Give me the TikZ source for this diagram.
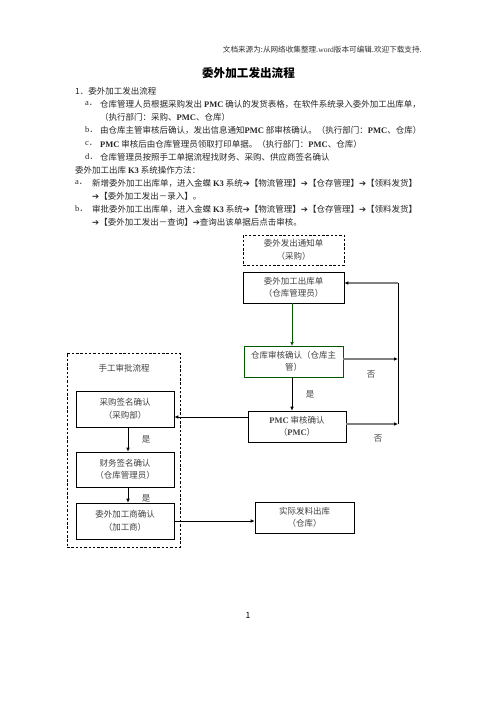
\documentclass[tikz,border=0pt]{standalone}
\usepackage{fontspec}
\setmainfont{Noto Sans CJK SC}
\newfontfamily\dvfont{DejaVu Sans}
\newfontfamily\tmfont{Liberation Serif}
\usetikzlibrary{arrows.meta}
\newcommand\myarr{{\dvfont\bfseries\fontsize{8.5}{10}\selectfont ➔}}
\newcommand\lt[1]{{\tmfont\bfseries #1}}
\newcommand\lr[1]{{\tmfont #1}}
\begin{document}
\begin{tikzpicture}[x=1pt,y=-1pt,
  box/.style={draw, line width=0.7pt, inner sep=0pt, align=center, text=black!75, font=\fontsize{8.5}{12.5}\selectfont},
  dbox/.style={box, dashed, dash pattern=on 2.5pt off 1.8pt},
  arr/.style={-{Latex[length=4pt,width=3.6pt]}, line width=0.7pt},
  garr/.style={-{Latex[length=4pt,width=3.6pt,color=black]}, line width=1.6pt, draw=black!50},
  lbl/.style={font=\fontsize{8.5}{10}\selectfont, text=black!75, inner sep=0pt},
  body/.style={anchor=west, inner sep=0pt, text=black!85, font=\fontsize{8.5}{10}\selectfont}]
\useasboundingbox (0,0) rectangle (496,702);

% header and title
\node[anchor=east, inner sep=0pt, text=black!80, font=\fontsize{7.6}{9}\selectfont] (hdr) at (422,50) {文档来源为:从网络收集整理.\lr{word}版本可编辑.欢迎下载支持.};
\node[inner sep=0pt, font=\fontsize{11.6}{14}\selectfont\bfseries] (title) at (248.5,73) {委外加工发出流程};

% body text
\node[body] (t1) at (75,91) {1．委外加工发出流程};
\node[body] (t2a) at (85,104) {\lr{a}．};
\node[body] (t2) at (100,104) {仓库管理人员根据采购发出 \lt{PMC} 确认的发货表格，在软件系统录入委外加工出库单，};
\node[body] (t3) at (100,117) {（执行部门：采购、\lt{PMC}、仓库）};
\node[body] (t4a) at (85,130) {\lr{b}．};
\node[body] (t4) at (100,130) {由仓库主管审核后确认，发出信息通知\lt{PMC} 部审核确认。（执行部门：\lt{PMC}、仓库）};
\node[body] (t5a) at (85,144) {\lr{c}．};
\node[body] (t5) at (100,144) {\lt{PMC} 审核后由仓库管理员领取打印单据。（执行部门：\lt{PMC}、仓库）};
\node[body] (t6a) at (85,157) {\lr{d}．};
\node[body] (t6) at (100,157) {仓库管理员按照手工单据流程找财务、采购、供应商签名确认};
\node[body] (t7) at (75,170) {委外加工出库 \lt{K3} 系统操作方法：};
\node[body] (t8a) at (75,183) {\lr{a}．};
\node[body] (t8) at (92,183) {新增委外加工出库单，进入金蝶 \lt{K3} 系统\myarr【物流管理】\myarr【仓存管理】\myarr【领料发货】};
\node[body] (t9) at (92,196) {\myarr【委外加工发出－录入】。};
\node[body] (t10a) at (75,209) {\lr{b}．};
\node[body] (t10) at (92,209) {审批委外加工出库单，进入金蝶 \lt{K3} 系统\myarr【物流管理】\myarr【仓存管理】\myarr【领料发货】};
\node[body] (t11) at (92,222) {\myarr【委外加工发出－查询】\myarr 查询出该单据后点击审核。};

% flowchart boxes
\node[dbox, minimum width=101pt, minimum height=30pt] (notice) at (293.5,250) {委外发出通知单\\（采购）};
\node[box, minimum width=101pt, minimum height=31pt] (out) at (293.5,287.5) {委外加工出库单\\（仓库管理员）};
\node[box, draw=green!35!black, minimum width=99pt, minimum height=31pt] (check) at (293.5,361.5) {仓库审核确认（仓库主\\管）};
\node[box, minimum width=98pt, minimum height=31pt] (pmc) at (297,426.5) {\lt{PMC} 审核确认\\（\lt{PMC}）};
\node[dbox, minimum width=113pt, minimum height=194pt] (manual) at (123.5,450) {};
\node[lbl] (mtitle) at (124,368) {手工审批流程};
\node[box, minimum width=98pt, minimum height=36pt] (buy) at (125,409) {采购签名确认\\（采购部）};
\node[box, minimum width=98pt, minimum height=35pt] (fin) at (125,469.5) {财务签名确认\\（仓库管理员）};
\node[box, minimum width=98pt, minimum height=36pt] (proc) at (125,521) {委外加工商确认\\（加工商）};
\node[box, minimum width=99pt, minimum height=31pt] (issue) at (304.5,517.5) {实际发料出库\\（仓库）};
\node[inner sep=0pt, font=\fontsize{8.5}{10}\selectfont] (pg) at (248,615) {1};

% connectors
\coordinate (c1) at (398,283);
\coordinate (c2) at (398,359);
\coordinate (c3) at (398,424);
\draw[arr, draw=green!35!black] (292,303) -- (292,346);
\draw[garr] (check.east |- c2) -- (c2);
\draw[garr] (pmc.east |- c3) -- (c3);
\draw[line width=0.8pt] (c2) -- (c1);
\draw[line width=0.8pt] (c3) -- (c2);
\draw[garr] (c1) -- (out.east |- c1);
\draw[arr] (check.south -| 292,0) -- (pmc.north -| 292,0);
\draw[arr] (pmc.west |- 0,417) -- (buy.east |- 0,417);
\draw[arr] (buy.south -| 128,0) -- (fin.north -| 128,0);
\draw[arr] (fin.south -| 128,0) -- (proc.north -| 128,0);
\draw[arr] (proc.east |- 0,521) -- (issue.west |- 0,521);

% labels
\node[lbl] (no1) at (371,375) {否};
\node[lbl] (no2) at (378,439) {否};
\node[lbl] (yes1) at (310,394) {是};
\node[lbl] (yes2) at (146,439) {是};
\node[lbl] (yes3) at (146,498) {是};
\end{tikzpicture}
\end{document}
